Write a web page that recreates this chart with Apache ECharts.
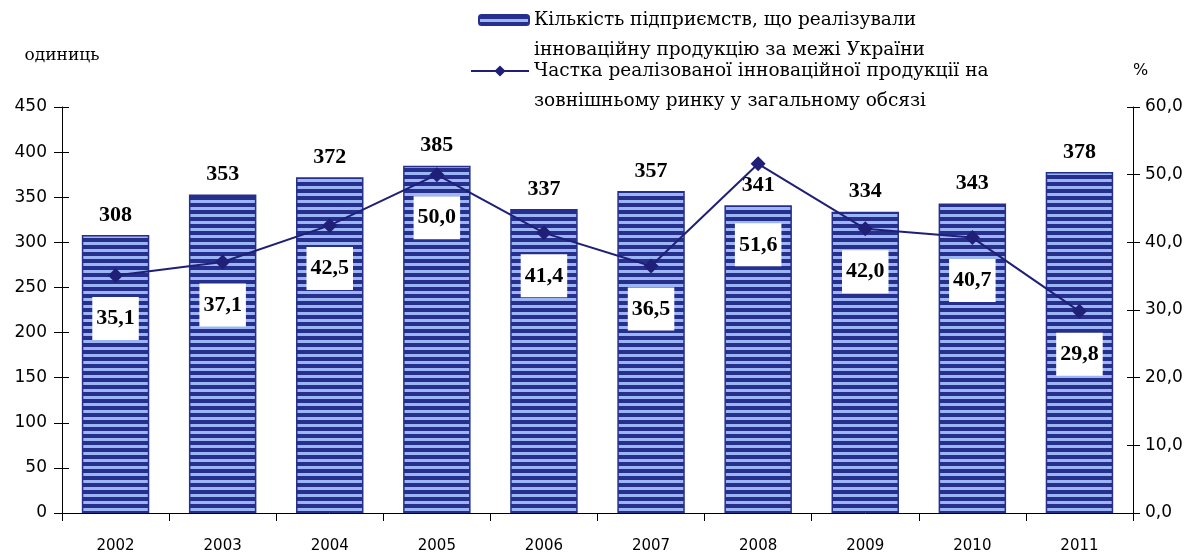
<!DOCTYPE html>
<html>
<head>
<meta charset="utf-8">
<script src="https://cdn.jsdelivr.net/npm/echarts@6/dist/echarts.min.js"></script>
<style>
  html, body { margin: 0; padding: 0; background: #fff; }
  #chart { width: 1200px; height: 558px; }
</style>
</head>
<body>
<div id="chart"></div>
<script>
// Years on the category axis
const years = ['2002', '2003', '2004', '2005', '2006', '2007', '2008', '2009', '2010', '2011'];
// Number of enterprises that sold innovative products abroad (units)
const enterprises = [308, 353, 372, 385, 337, 357, 341, 334, 343, 378];
// Share of innovative products sold on the foreign market (%)
const shareForeign = [35.1, 37.1, 42.5, 50.0, 41.4, 36.5, 51.6, 42.0, 40.7, 29.8];

const barName = 'Кількість підприємств, що реалізували\nінноваційну продукцію за межі України';
const lineName = 'Частка реалізованої інноваційної продукції на\nзовнішньому ринку у загальному обсязі';

const NAVY = '#262f8c';
const LIGHT = '#9cb6f5';
const LINE = '#1f1f78';

// Horizontal stripe fill for the bars
function stripes() {
  const c = document.createElement('canvas');
  c.width = 8; c.height = 7;
  const g = c.getContext('2d');
  g.fillStyle = NAVY; g.fillRect(0, 0, 8, 4);
  g.fillStyle = LIGHT; g.fillRect(0, 4, 8, 3);
  return c;
}

const comma1 = v => v.toFixed(1).replace('.', ',');
const axisFontY = { fontFamily: 'DejaVu Sans', fontSize: 17, color: '#000' };
const axisFontX = { fontFamily: 'DejaVu Sans', fontSize: 15, color: '#000' };
const serif = 'Liberation Serif';
const legendText = { fontFamily: 'DejaVu Serif', fontSize: 18.5, color: '#000', lineHeight: 30 };

// The 2008 point sits above its bar, so its label drops lower into the bar
const lineData = shareForeign.map((v, i) => i === 6
  ? { value: v, label: { distance: 52 } }
  : v);

const chart = echarts.init(document.getElementById('chart'), null, { renderer: 'canvas' });
chart.setOption({
  animation: false,
  backgroundColor: '#fff',
  grid: { left: 62, right: 67, top: 107, bottom: 45 },
  legend: [
    {
      // a blank leading line keeps the icon level with the first text line
      data: [barName],
      formatter: n => '\n' + n,
      left: 473, top: -30,
      itemWidth: 50, itemHeight: 10,
      textStyle: legendText
    },
    {
      data: [lineName],
      formatter: n => '\n' + n,
      left: 465, top: 21,
      itemWidth: 58, itemHeight: 14,
      textStyle: legendText
    }
  ],
  xAxis: {
    type: 'category',
    data: years,
    axisLine: { lineStyle: { color: '#000', width: 1 } },
    axisTick: { show: true, length: 8, lineStyle: { color: '#000' } },
    axisLabel: Object.assign({ margin: 26 }, axisFontX),
    splitLine: { show: false }
  },
  yAxis: [
    {
      type: 'value', position: 'left',
      min: 0, max: 450, interval: 50,
      name: 'одиниць', nameLocation: 'end', nameGap: 43,
      nameTextStyle: { fontFamily: 'DejaVu Serif', fontSize: 17, color: '#000', align: 'center' },
      axisLine: { show: true, lineStyle: { color: '#000' } },
      axisTick: { show: true, length: 8, lineStyle: { color: '#000' } },
      axisLabel: Object.assign({ margin: 15 }, axisFontY),
      splitLine: { show: false }
    },
    {
      type: 'value', position: 'right',
      min: 0, max: 60, interval: 10,
      name: '%', nameLocation: 'end', nameGap: 28,
      nameTextStyle: { fontFamily: 'DejaVu Sans', fontSize: 16, color: '#000', align: 'left' },
      axisLine: { show: true, lineStyle: { color: '#000' } },
      axisTick: { show: true, length: 7, lineStyle: { color: '#000' } },
      axisLabel: Object.assign({ margin: 12, formatter: v => comma1(v) }, axisFontY),
      splitLine: { show: false }
    },
    {
      // inner half of the left tick marks
      type: 'value', position: 'left', min: 0, max: 450, interval: 50,
      axisLine: { show: false }, axisLabel: { show: false }, splitLine: { show: false },
      axisTick: { show: true, inside: true, length: 7, lineStyle: { color: '#000' } }
    },
    {
      // inner half of the right tick marks
      type: 'value', position: 'right', min: 0, max: 60, interval: 10,
      axisLine: { show: false }, axisLabel: { show: false }, splitLine: { show: false },
      axisTick: { show: true, inside: true, length: 6, lineStyle: { color: '#000' } }
    }
  ],
  series: [
    {
      name: barName,
      type: 'bar',
      yAxisIndex: 0,
      data: enterprises,
      barWidth: '63%',
      itemStyle: {
        color: { image: stripes(), repeat: 'repeat' },
        borderColor: NAVY,
        borderWidth: 1.5
      },
      label: {
        show: true, position: 'top', distance: 9,
        fontFamily: serif, fontWeight: 'bold', fontSize: 22, color: '#000'
      },
      z: 2
    },
    {
      name: lineName,
      type: 'line',
      yAxisIndex: 1,
      data: lineData,
      symbol: 'diamond',
      symbolSize: 15,
      lineStyle: { color: LINE, width: 2 },
      itemStyle: { color: LINE },
      label: {
        show: true, position: 'bottom', distance: 14,
        formatter: p => comma1(p.value),
        fontFamily: serif, fontWeight: 'bold', fontSize: 22, color: '#000',
        backgroundColor: '#fff', padding: [10, 4, 10, 4], lineHeight: 23
      },
      z: 3
    }
  ]
});
</script>
</body>
</html>
